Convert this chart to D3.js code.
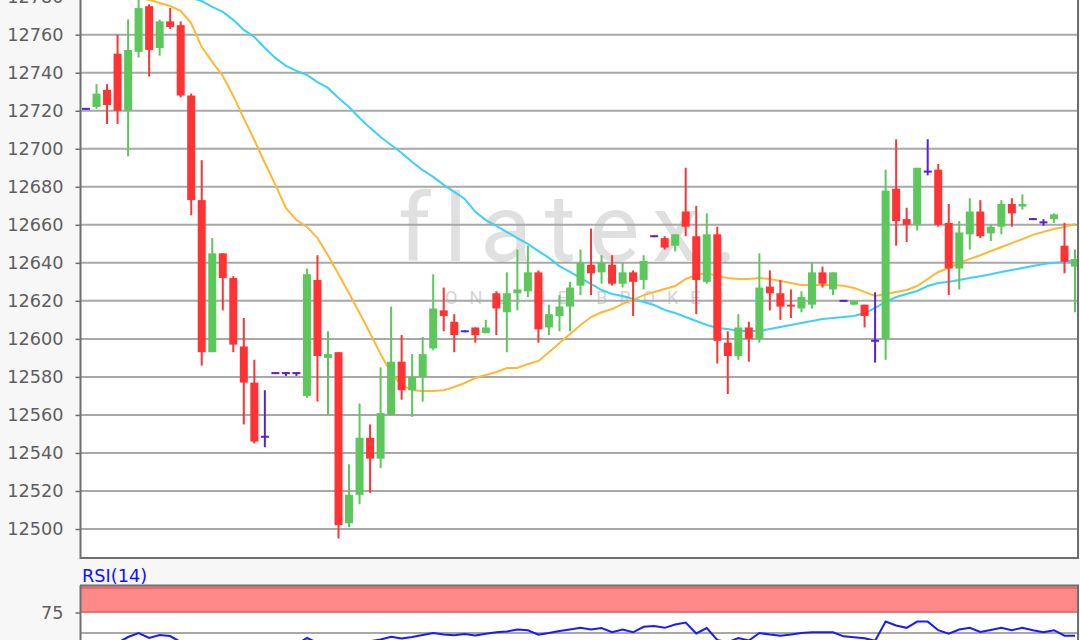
<!DOCTYPE html>
<html><head><meta charset="utf-8">
<script src="https://cdn.jsdelivr.net/npm/d3@7"></script>
<style>html,body{margin:0;padding:0;background:#f7f7f7;overflow:hidden}</style>
</head><body>
<svg id="c" width="1080" height="640"></svg>
<script>
// ---- data ----
const openV  = [12721,12722,12731,12750,12720,12751,12775,12753,12767,12765,12728,12673,12593,12645,12632,12596,12577,12548.5,12582,12582,12582,12570,12631,12590,12593,12503,12518,12548,12537,12560,12588,12573,12580,12595,12615,12609,12604,12606,12603,12624,12614,12624,12625,12635,12606,12612,12617,12628,12639,12635,12639,12629,12635,12631,12654,12653,12649,12667,12654,12630,12655,12598,12591,12606,12600,12627.5,12624,12618,12616,12618,12635,12626,12620,12618,12618,12599,12600,12679,12663,12660,12688,12689,12661,12637,12655,12667,12655.5,12659,12671,12669.6,12663,12661.3,12663,12649,12638];
const highV  = [12721.5,12734,12734,12760,12768,12782,12776,12768,12774,12767,12729,12694,12653,12645,12633,12611,12589,12573,12582.5,12582.5,12582.5,12637,12644,12604,12593,12534,12566,12555,12585,12617,12602,12592,12601,12634,12627,12613,12604.5,12606,12610,12625,12635,12647,12649,12636,12618,12623,12630,12647,12658,12644,12644,12640,12636,12644,12654.5,12654,12655,12690,12670,12666,12659,12604,12613,12609,12645,12636,12631,12626,12625,12640,12638,12635,12620.5,12620,12618,12624.5,12689,12705,12669,12690,12705,12692,12671,12662,12674,12673,12660,12673,12674,12676,12663.5,12663,12666,12661,12647];
const lowV   = [12720.5,12721,12713,12713,12696,12748,12738,12749,12763,12727,12665,12586,12593,12615,12593,12555,12545,12543,12581.5,12580.5,12580.5,12569,12567,12560,12495,12501,12513,12519,12532,12560,12568,12559,12567,12594,12604,12593,12603.5,12598,12603,12602,12593,12615,12622,12598,12602,12604,12604,12623,12623,12629,12628,12627,12612,12626,12653.5,12647,12646,12654,12613,12629,12587,12571,12589,12588,12598,12615,12610,12611,12614,12616,12627,12623,12619.5,12618,12606,12587.5,12589,12649,12651,12657,12686,12659,12623,12626,12647,12653,12651.5,12655,12659,12668,12662.5,12659.5,12661,12634.5,12614];
const closeV = [12721,12729,12723,12720,12752,12774,12752,12767,12764,12728,12673,12593,12645,12632,12597,12577,12546,12548.5,12582,12582,12582,12634,12591,12592,12502,12518,12548,12537,12561,12588,12573,12580,12592,12616,12612,12602,12604,12602,12606,12616,12624,12626,12635,12605,12613,12617,12627,12640,12634.5,12640,12629,12635,12630,12641,12654,12648,12655,12659,12631,12655,12599,12591,12606,12600,12627,12624,12617,12617,12622,12635,12629,12635,12620,12620,12612,12599,12678,12662,12660,12690,12688,12660,12637,12656,12667,12654,12659,12671,12666,12671,12663,12661.3,12665.5,12640.6,12642];
const maFast = [12795,12790,12786,12783,12781,12779.5,12778.3,12776.7,12775.1,12772.5,12766,12753.5,12745.7,12738.3,12727.8,12716,12704.6,12692.5,12681,12668.9,12662.5,12658.9,12653,12644,12634,12624,12613.6,12603,12592,12582,12575.7,12573,12572.6,12572.6,12573,12574.7,12576.8,12579.4,12581,12582.6,12584.7,12584.7,12586.8,12588.4,12593,12597.8,12602.6,12607.3,12611.5,12614,12615.7,12618.4,12620.5,12623,12624.7,12626.2,12627.8,12631.5,12633.6,12634.7,12633,12632,12631.5,12631.5,12632,12631.5,12630.5,12629.4,12628.4,12628.4,12628.4,12628.4,12628,12626.8,12624.7,12622.6,12623.6,12624.7,12625.7,12627.8,12631.5,12635.2,12637.3,12640,12642,12644,12646.2,12648.3,12650.4,12652.5,12654.7,12656.3,12657.8,12658.9,12660.4];
const maSlow = [12806,12804,12802,12800,12797,12795,12792,12789,12786,12783,12779.3,12777.7,12774.6,12772,12767.8,12762.5,12758.8,12753,12747.8,12743.6,12741,12738.8,12735.1,12732,12726.7,12722,12716.2,12711,12706.2,12702,12697.8,12693,12688.8,12685.2,12681,12677.3,12673.6,12666.8,12662.5,12659.4,12656.2,12653,12650,12646.2,12642.6,12638.3,12635.2,12632,12628.9,12625.7,12623.6,12622.6,12621,12619.4,12617.8,12615.2,12613.6,12611.5,12609.4,12607.3,12605.7,12605.2,12604.2,12604.2,12604.2,12605.2,12606.3,12607.3,12608.4,12609.4,12610.5,12611,12611.5,12612,12613.6,12616.3,12619.4,12622,12623.6,12625.2,12627.8,12629.4,12630,12631,12632,12633,12634,12635.2,12636.2,12637.3,12638.3,12639.4,12640,12640.5,12641.5];
const rsiV   = [38,39,38,38,45.1,50,43.9,47.6,46.3,39,32,24,33,30,26,23,20,21,26,30,36,44,38,38.5,27,31,38.4,40,42.1,45.4,43.2,45.1,47.6,50,48.3,47.3,48.8,47.1,49,50.9,51.8,54.3,53.3,48,50,52.4,54.3,56.3,54.3,56.1,51,54.3,50.9,57.6,58.5,56.3,60.4,62.7,49.4,56.1,41.5,38.7,43.9,40.9,50,48.2,46.7,48.2,50,50.9,50.9,50.9,45.9,44.8,43.5,40.5,63.9,59.1,56.3,63.9,63.9,53.4,49.1,54.3,56.3,51.3,53.7,56.3,53.4,56.3,53.4,50.9,53.4,46.7,46.7];
const priceTicks = [12500,12520,12540,12560,12580,12600,12620,12640,12660,12680,12700,12720,12740,12760,12780];
const rsiTicks = [75];
const rsiGrid = [50];
const rsiBand = [75, 110];
const rsiTitle = "RSI(14)";
const wmMain = "flatex.";
const wmSub = "ONLINE BROKER";

// ---- layout ----
const svg = d3.select("#c");
const L = 81, R = 1078, TOP = -20, BOT = 558;
const RT = 585.5, RB = 660;
const n = openV.length;
const idx = d3.range(n);
const x = d3.scaleLinear().domain([0, n - 1]).range([86, 1075]);
const y = d3.scaleLinear().domain([12500, 12760]).range([529, 34.7]);
const yr = d3.scaleLinear().domain([50, 75]).range([633, 612.5]);
const font = "DejaVu Sans, Verdana, sans-serif";
const GREEN = "#5cc85c", RED = "#ff3333", DOJI = "#5522d8";

svg.append("rect").attr("width",1080).attr("height",640).attr("fill","#f7f7f7");
svg.append("rect").attr("x",L).attr("y",TOP).attr("width",R-L).attr("height",BOT-TOP).attr("fill","#fff");
svg.append("rect").attr("x",L).attr("y",RT).attr("width",R-L).attr("height",RB-RT).attr("fill","#fff");

const defs = svg.append("defs");
defs.append("clipPath").attr("id","pc").append("rect").attr("x",L).attr("y",TOP).attr("width",R-L).attr("height",BOT-TOP);
defs.append("clipPath").attr("id","rc").append("rect").attr("x",L).attr("y",RT).attr("width",R-L).attr("height",RB-RT);

// watermark
svg.append("text").attr("x",398).attr("y",261)
  .attr("font-family","Roboto, 'Open Sans', sans-serif").attr("font-size",95).attr("font-weight",400)
  .attr("letter-spacing",13).attr("fill","#e0e0e0").text(wmMain);
svg.append("text").attr("x",445).attr("y",304)
  .attr("font-family","Roboto, Lato, sans-serif").attr("font-size",18)
  .attr("letter-spacing",12).attr("fill","#d4d4d4").text(wmSub);

// grid
const pg = svg.append("g").attr("clip-path","url(#pc)");
pg.selectAll("line.g").data(priceTicks).join("line")
  .attr("x1",L).attr("x2",R).attr("y1",d=>y(d)).attr("y2",d=>y(d))
  .attr("stroke","#a8a8a8").attr("stroke-width",2);

// moving averages
const ln = arr => d3.line().x((d,i)=>x(i)).y(d=>y(d))(arr);
pg.append("path").attr("d",ln(maSlow)).attr("fill","none").attr("stroke","#3fd0f7").attr("stroke-width",2);
pg.append("path").attr("d",ln(maFast)).attr("fill","none").attr("stroke","#ffb833").attr("stroke-width",2);

// candles
const cg = pg.append("g");
idx.forEach(i=>{
  const o=openV[i], c=closeV[i], h=highV[i], l=lowV[i];
  const col = o===c ? DOJI : (c>o ? GREEN : RED);
  const cx = x(i);
  cg.append("line").attr("x1",cx).attr("x2",cx).attr("y1",y(h)).attr("y2",y(l))
    .attr("stroke",col).attr("stroke-width",2);
  if (o===c) {
    cg.append("line").attr("x1",cx-4).attr("x2",cx+4).attr("y1",y(o)).attr("y2",y(o))
      .attr("stroke",col).attr("stroke-width",2);
  } else {
    const top = y(Math.max(o,c)), bot = y(Math.min(o,c));
    cg.append("rect").attr("x",cx-4).attr("width",8).attr("y",top).attr("height",Math.max(1.5,bot-top))
      .attr("fill",col);
  }
});

// borders main
svg.append("line").attr("x1",R).attr("x2",R).attr("y1",TOP).attr("y2",BOT+1).attr("stroke","#6e6e6e").attr("stroke-width",2);
svg.append("line").attr("x1",L-1).attr("x2",R+1).attr("y1",BOT).attr("y2",BOT).attr("stroke","#6e6e6e").attr("stroke-width",2);

const ax = svg.append("g").attr("transform",`translate(${L-0.5},0)`)
  .call(d3.axisLeft(y).tickValues(priceTicks).tickSize(5).tickPadding(12).tickFormat(d3.format("d")));
ax.select(".domain").attr("stroke","#6e6e6e").attr("stroke-width",2).attr("d",`M0,${TOP}V${BOT+1}`);
ax.selectAll(".tick line").attr("stroke","#6e6e6e").attr("stroke-width",1.5);
ax.selectAll(".tick text").attr("fill","#5e5e5e").attr("font-family",font).attr("font-size",17.7);

// RSI panel
const rg = svg.append("g").attr("clip-path","url(#rc)");
rg.append("rect").attr("x",L).attr("width",R-L).attr("y",yr(rsiBand[1])).attr("height",yr(rsiBand[0])-yr(rsiBand[1]))
  .attr("fill","#ff8888");
rg.append("line").attr("x1",L).attr("x2",R).attr("y1",588).attr("y2",588).attr("stroke","#dd6363").attr("stroke-width",1.5);
rg.append("line").attr("x1",L).attr("x2",R).attr("y1",yr(75)-0.5).attr("y2",yr(75)-0.5).attr("stroke","#dd6363").attr("stroke-width",1.5);
rg.selectAll("line.rg").data(rsiGrid).join("line")
  .attr("x1",L).attr("x2",R).attr("y1",d=>yr(d)).attr("y2",d=>yr(d))
  .attr("stroke","#a8a8a8").attr("stroke-width",2);
rg.append("path").attr("d",d3.line().x((d,i)=>x(i)).y(d=>yr(d))(rsiV))
  .attr("fill","none").attr("stroke","#1a1aff").attr("stroke-width",2);

svg.append("line").attr("x1",L-1).attr("x2",R+1).attr("y1",RT).attr("y2",RT).attr("stroke","#6e6e6e").attr("stroke-width",2);
svg.append("line").attr("x1",R).attr("x2",R).attr("y1",RT).attr("y2",RB).attr("stroke","#6e6e6e").attr("stroke-width",2);
const rax = svg.append("g").attr("transform",`translate(${L-0.5},0)`)
  .call(d3.axisLeft(yr).tickValues(rsiTicks).tickSize(5).tickPadding(12).tickFormat(d3.format("d")));
rax.select(".domain").attr("stroke","#6e6e6e").attr("stroke-width",2).attr("d",`M0,${RT}V${RB}`);
rax.selectAll(".tick line").attr("stroke","#6e6e6e").attr("stroke-width",1.5);
rax.selectAll(".tick text").attr("fill","#5e5e5e").attr("font-family",font).attr("font-size",17.7);

svg.append("text").attr("x",82).attr("y",582).attr("fill","#1010ff")
  .attr("font-family",font).attr("font-size",17.7).text(rsiTitle);
</script>
</body></html>
